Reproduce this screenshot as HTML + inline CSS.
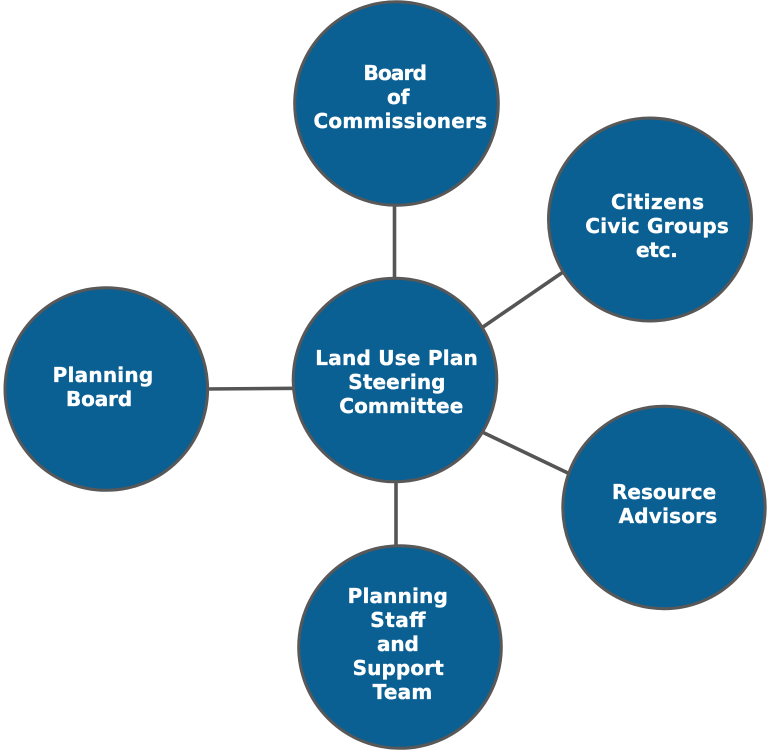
<!DOCTYPE html>
<html>
<head>
<meta charset="utf-8">
<style>
html,body{margin:0;padding:0;background:#fff;}
svg{display:block;}
text{font-family:"DejaVu Sans","Liberation Sans",sans-serif;font-weight:bold;font-size:20px;fill:#fff;stroke:#fff;stroke-width:0.35px;}
</style>
</head>
<body>
<svg width="771" height="752" viewBox="0 0 771 752" xmlns="http://www.w3.org/2000/svg">
  <g stroke="#555" stroke-width="3.6" stroke-linecap="butt">
    <line x1="394.5" y1="200" x2="394.5" y2="284"/>
    <line x1="204" y1="389" x2="297" y2="388.3"/>
    <line x1="480" y1="329" x2="566" y2="270"/>
    <line x1="479" y1="430.5" x2="571" y2="474.5"/>
    <line x1="396" y1="476" x2="396" y2="550"/>
  </g>
  <g fill="#0a5f93" stroke="#585858" stroke-width="3">
    <circle cx="396.5" cy="103.5" r="101.8"/>
    <circle cx="650" cy="219.5" r="101.5"/>
    <circle cx="395" cy="380" r="101.8"/>
    <circle cx="106.3" cy="389" r="101.3"/>
    <circle cx="664" cy="507.5" r="101.2"/>
    <circle cx="400" cy="647" r="101.3"/>
  </g>
  <g>
    <text x="363.5" y="80" textLength="63.5" lengthAdjust="spacing">Board</text>
    <text x="387" y="104">of</text>
    <text x="313.5" y="128" textLength="173.5" lengthAdjust="spacing">Commissioners</text>

    <text x="611" y="209" textLength="93" lengthAdjust="spacing">Citizens</text>
    <text x="585.3" y="233" textLength="143.5" lengthAdjust="spacing">Civic Groups</text>
    <text x="636" y="257" textLength="41.8" lengthAdjust="spacing">etc.</text>

    <text x="315.3" y="365" textLength="162.5" lengthAdjust="spacing">Land Use Plan</text>
    <text x="348.3" y="389" textLength="97.2" lengthAdjust="spacing">Steering</text>
    <text x="339.3" y="413" textLength="124" lengthAdjust="spacing">Committee</text>

    <text x="52.6" y="382" textLength="100.6" lengthAdjust="spacing">Planning</text>
    <text x="66" y="406" textLength="66.2" lengthAdjust="spacing">Board</text>

    <text x="612" y="499" textLength="104.2" lengthAdjust="spacing">Resource</text>
    <text x="618.6" y="523" textLength="98.6" lengthAdjust="spacing">Advisors</text>

    <text x="347.6" y="603" textLength="100.2" lengthAdjust="spacing">Planning</text>
    <text x="370.3" y="627" textLength="55.2" lengthAdjust="spacing">Staff</text>
    <text x="377" y="651" textLength="41.8" lengthAdjust="spacing">and</text>
    <text x="352.6" y="675" textLength="91.2" lengthAdjust="spacing">Support</text>
    <text x="372.6" y="699" textLength="59.6" lengthAdjust="spacing">Team</text>
  </g>
</svg>
</body>
</html>
